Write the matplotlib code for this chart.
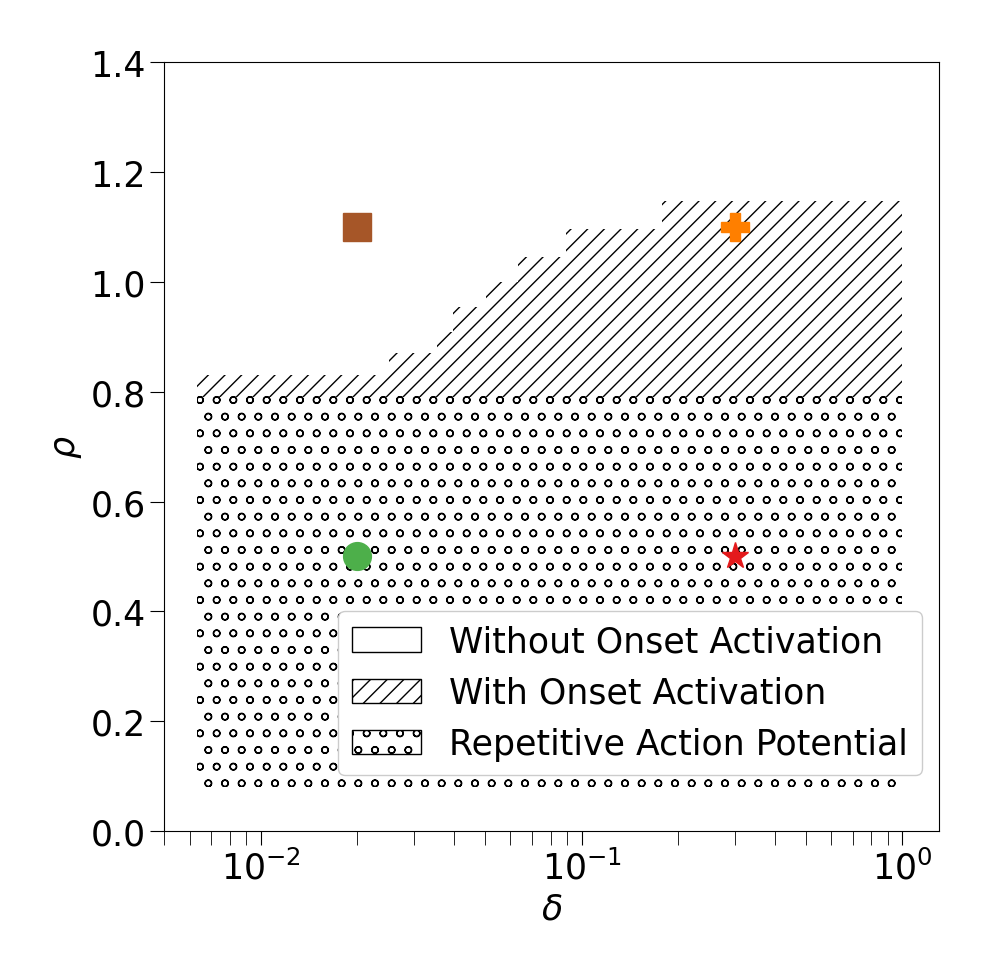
import matplotlib.pyplot as plt
from matplotlib.patches import Patch

# step boundary of the onset-activation region
delta_steps = [0.0063, 0.025, 0.0354, 0.0397, 0.0503, 0.0632, 0.0893, 0.1777, 1.0]
rho_onset_top = [0.83, 0.87, 0.908, 0.954, 1.0, 1.045, 1.096, 1.147, 1.147]
rho_onset_bottom = 0.79

# repetitive action potential region
delta_rap = [0.0063, 1.0]
rho_rap_bottom = 0.08
rho_rap_top = 0.795

# marked parameter points
pt_delta = [0.02, 0.3, 0.02, 0.3]
pt_rho = [1.1, 1.1, 0.5, 0.5]
pt_marker = ['s', 'P', 'o', '*']
pt_color = ['#a65628', '#ff7f00', '#4daf4a', '#e41a1c']

legend_labels = ['Without Onset Activation', 'With Onset Activation',
                 'Repetitive Action Potential']

fig = plt.figure(figsize=(9.88, 9.78), dpi=100)
ax = fig.add_axes([0.1663, 0.1493, 0.7841, 0.786])

ax.fill_between(delta_steps, rho_onset_bottom, rho_onset_top, step='post',
                facecolor='none', edgecolor='k', linewidth=0, hatch='//')
ax.fill_between(delta_rap, rho_rap_bottom, rho_rap_top,
                facecolor='none', edgecolor='k', linewidth=0, hatch='o')

for d, r, m, c in zip(pt_delta, pt_rho, pt_marker, pt_color):
    ax.plot(d, r, marker=m, color=c, markersize=20, linestyle='none')

ax.set_xscale('log')
ax.set_xlim(0.005, 1.3)
ax.set_ylim(0, 1.4)
ax.tick_params(axis='both', which='both', length=10, labelsize=25)
ax.set_xlabel(r'$\delta$', fontsize=25)
ax.set_ylabel(r'$\rho$', fontsize=25)

handles = [Patch(facecolor='white', edgecolor='k'),
           Patch(facecolor='white', edgecolor='k', hatch='//'),
           Patch(facecolor='white', edgecolor='k', hatch='o')]
ax.legend(handles, legend_labels, loc='lower right', bbox_to_anchor=(1, 0.05),
          fontsize=25, framealpha=1)

fig.savefig('out.png', dpi=100)
